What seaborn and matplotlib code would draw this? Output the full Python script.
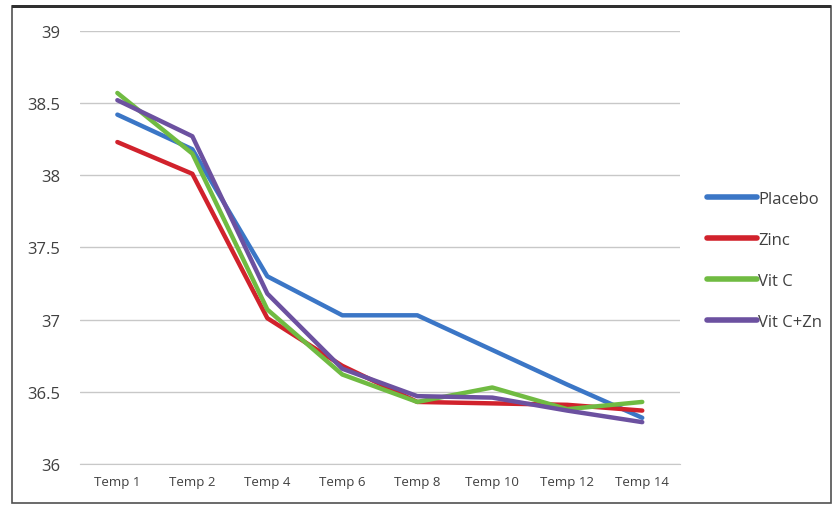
import pandas as pd
import numpy as np
import matplotlib
matplotlib.use('Agg')
import matplotlib.pyplot as plt
from matplotlib.patches import Rectangle
import seaborn as sns

# datos
tiempos = ['Temp 1', 'Temp 2', 'Temp 4', 'Temp 6', 'Temp 8', 'Temp 10', 'Temp 12', 'Temp 14']
placebo = [38.42, 38.18, 37.30, 37.03, 37.03, 36.79, 36.55, 36.32]
zinc = [38.23, 38.01, 37.01, 36.68, 36.43, 36.42, 36.41, 36.37]
vit_c = [38.57, 38.15, 37.07, 36.62, 36.43, 36.53, 36.38, 36.43]
vit_c_zn = [38.52, 38.27, 37.18, 36.66, 36.47, 36.46, 36.37, 36.29]
grupos = ['Placebo', 'Zinc', 'Vit C', 'Vit C+Zn']
colores = ['#3b76c6', '#d1222c', '#70bb42', '#6c51a0']

df = pd.DataFrame({'tiempo': tiempos, 'Placebo': placebo, 'Zinc': zinc,
                   'Vit C': vit_c, 'Vit C+Zn': vit_c_zn})
df_long = df.melt(id_vars='tiempo', var_name='grupo', value_name='temp')

sns.set_style('white')
plt.rcParams['font.family'] = ['Open Sans', 'DejaVu Sans']

fig = plt.figure(figsize=(8.32, 5.06), dpi=100)
ax = fig.add_axes([0.096, 0.081, 0.721, 0.856])

sns.lineplot(data=df_long, x='tiempo', y='temp', hue='grupo', hue_order=grupos,
             palette=colores, linewidth=3.2, sort=False, ax=ax)

ax.set_ylim(36, 39)
ax.set_yticks(np.arange(36, 39.01, 0.5))
ax.set_yticklabels(['36', '36.5', '37', '37.5', '38', '38.5', '39'])
ax.set_xlim(-0.5, len(tiempos) - 0.5)
ax.yaxis.grid(True, color='#c8c8c8', linewidth=1)
ax.set_axisbelow(True)
for s in ['top', 'right', 'left']:
    ax.spines[s].set_visible(False)
ax.spines['bottom'].set_color('#c8c8c8')
ax.tick_params(axis='y', labelsize=12, colors='#404040', length=0, pad=14)
ax.tick_params(axis='x', labelsize=9.5, colors='#404040', length=0, pad=8)
ax.set_xlabel('')
ax.set_ylabel('')

leg = ax.legend(loc='center left', bbox_to_anchor=(1.035, 0.47), frameon=False,
                fontsize=12, handlelength=3.0, handletextpad=0.05, labelspacing=1.5,
                borderaxespad=0)
for t in leg.get_texts():
    t.set_color('#404040')
for l in leg.get_lines():
    l.set_linewidth(4)

# marco del grafico
fig.patches.append(Rectangle((0.014, 0.004), 0.985, 0.982, transform=fig.transFigure,
                             fill=False, edgecolor='#505050', linewidth=1.2))
fig.patches.append(Rectangle((0.014, 0.982), 0.985, 0.006, transform=fig.transFigure,
                             facecolor='#303030', edgecolor='none'))

fig.savefig('out.png', dpi=100)
